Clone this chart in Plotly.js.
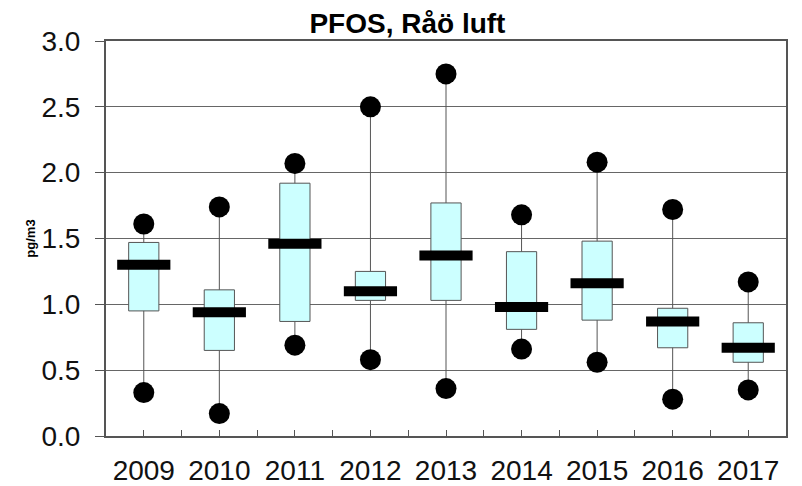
<!DOCTYPE html>
<html>
<head>
<meta charset="utf-8">
<script src="https://cdn.plot.ly/plotly-3.0.1.min.js"></script>
<style>
  html, body { margin: 0; padding: 0; background: #fff; }
  #chart { width: 802px; height: 486px; }
</style>
</head>
<body>
<div id="chart"></div>
<script>
// PFOS i luft vid Råö, årlig fördelning (pg/m3)
const years   = ['2009', '2010', '2011', '2012', '2013', '2014', '2015', '2016', '2017'];
const minVals = [0.33, 0.17, 0.69, 0.58, 0.36, 0.66, 0.56, 0.28, 0.35];
const q1Vals  = [0.95, 0.65, 0.87, 1.03, 1.03, 0.81, 0.88, 0.67, 0.56];
const medVals = [1.30, 0.94, 1.46, 1.10, 1.37, 0.98, 1.16, 0.87, 0.67];
const q3Vals  = [1.47, 1.11, 1.92, 1.25, 1.77, 1.40, 1.48, 0.97, 0.86];
const maxVals = [1.61, 1.74, 2.07, 2.50, 2.75, 1.68, 2.08, 1.72, 1.17];
const yTicks  = [0, 0.5, 1.0, 1.5, 2.0, 2.5, 3.0];

const xs = years.map((_, i) => i);
const boundaries = years.slice(1).map((_, i) => i + 0.5);

const boxes = {
  type: 'box',
  x: xs,
  q1: q1Vals,
  median: medVals,
  q3: q3Vals,
  lowerfence: minVals,
  upperfence: maxVals,
  width: 0.4,
  whiskerwidth: 0,
  fillcolor: '#ccffff',
  line: { color: '#555555', width: 1 },
  boxpoints: false,
  hoverinfo: 'skip',
  showlegend: false
};

const medians = {
  type: 'scatter',
  mode: 'markers',
  x: xs,
  y: medVals,
  marker: { symbol: 'line-ew', size: 38, line: { width: 10, color: '#000000' } },
  hoverinfo: 'skip',
  showlegend: false
};

const extremes = {
  type: 'scatter',
  mode: 'markers',
  x: xs.concat(xs),
  y: minVals.concat(maxVals),
  marker: { symbol: 'circle', size: 21, color: '#000000' },
  hoverinfo: 'skip',
  showlegend: false
};

const layout = {
  width: 802,
  height: 486,
  margin: { l: 106, r: 16, t: 41, b: 50 },
  paper_bgcolor: '#ffffff',
  plot_bgcolor: '#ffffff',
  font: { family: 'Liberation Sans, Arial, sans-serif', color: '#111111' },
  title: {
    text: '<b>PFOS, Råö luft</b>',
    font: { size: 28, color: '#000000' },
    x: 0.508, xref: 'container', xanchor: 'center',
    y: 0.953, yref: 'container', yanchor: 'middle'
  },
  xaxis: {
    type: 'linear',
    range: [-0.5, years.length - 0.5],
    tickvals: xs,
    ticktext: years,
    ticks: 'inside',
    ticklen: 6,
    tickwidth: 1,
    tickcolor: '#555555',
    tickfont: { size: 28, color: '#111111' },
    ticklabelstandoff: 8,
    minor: { tickvals: boundaries, ticks: 'inside', ticklen: 6, tickwidth: 1, tickcolor: '#555555', showgrid: false },
    showgrid: false,
    zeroline: false,
    showline: true,
    linecolor: '#555555',
    linewidth: 2,
    mirror: true,
    fixedrange: true
  },
  yaxis: {
    range: [0, 3.0],
    tickvals: yTicks,
    ticktext: yTicks.map(v => v.toFixed(1)),
    ticks: 'outside',
    ticklen: 9,
    tickwidth: 1,
    tickcolor: '#555555',
    tickfont: { size: 28, color: '#111111' },
    ticklabelstandoff: 9,
    showgrid: true,
    gridcolor: '#666666',
    gridwidth: 1,
    zeroline: false,
    showline: true,
    linecolor: '#555555',
    linewidth: 2,
    mirror: true,
    title: { text: '<b>pg/m3</b>', font: { size: 13, color: '#000000' }, standoff: 3 },
    fixedrange: true
  }
};

Plotly.newPlot('chart', [boxes, medians, extremes], layout, { displayModeBar: false, staticPlot: true });
</script>
</body>
</html>
